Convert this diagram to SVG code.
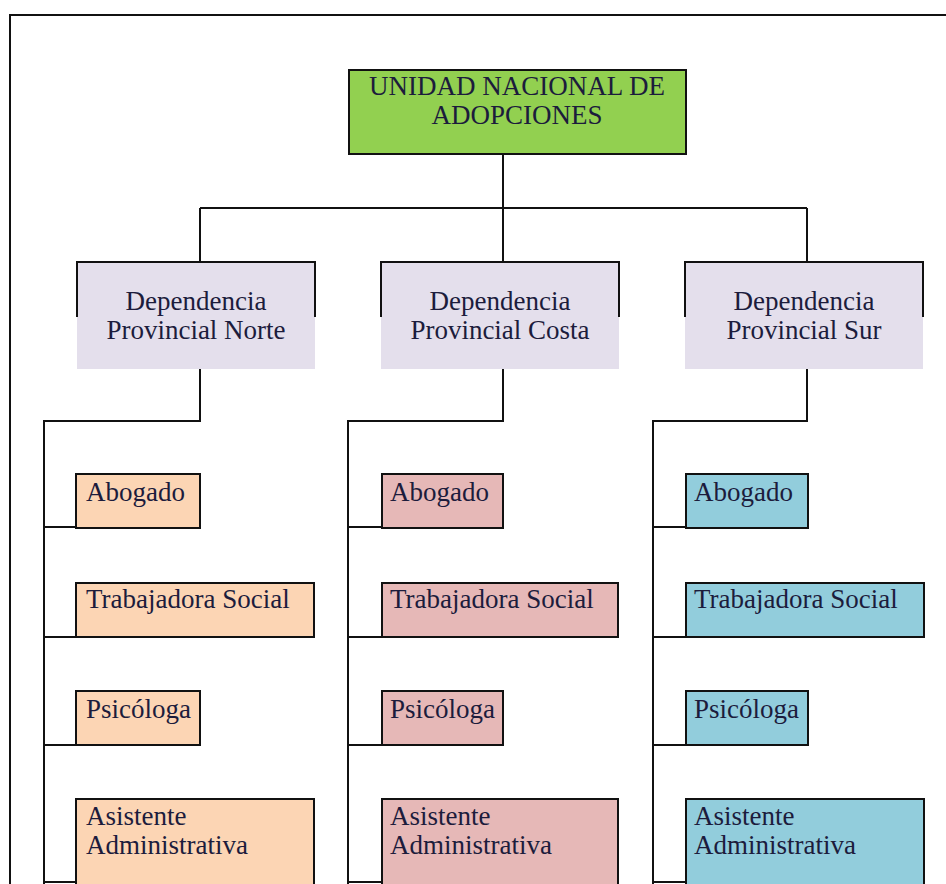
<svg xmlns="http://www.w3.org/2000/svg" width="946" height="884" viewBox="0 0 946 884">
<style>
text{font-family:'Liberation Serif','Times New Roman',Times,serif;font-size:27px;fill:#1c1c3c}
.c{text-anchor:middle}
.ln{stroke:#111;stroke-width:2;fill:none}
.bx{stroke:#111;stroke-width:2}
.prov{fill:#e4dfec}
.n{fill:#fcd5b4}
.m{fill:#e6b8b7}
.s{fill:#92cddc}
</style>
<rect width="946" height="884" fill="#fff"/>
<path class="ln" d="M10,884 V15 H946"/>
<g id="connectors" class="ln">
<path d="M503,154 V208 M200,208 H807 M200,208 V262 M503,208 V262 M807,208 V262"/>
<path d="M200,369 V421 H44 V884 M44,527 H76 M44,637 H76 M44,745 H76 M44,882 H76"/>
<path d="M503,369 V421 H348 V884 M348,527 H382 M348,637 H382 M348,745 H382 M348,882 H382"/>
<path d="M807,369 V421 H653 V884 M653,527 H686 M653,637 H686 M653,745 H686 M653,882 H686"/>
</g>
<g id="unidad">
<rect class="bx" x="349" y="70" width="337" height="84" fill="#92d050"/>
<text class="c" x="517" y="95">UNIDAD NACIONAL DE</text>
<text class="c" x="517" y="124">ADOPCIONES</text>
</g>
<g id="prov-norte">
<rect class="prov" x="77" y="262" width="238" height="107"/>
<path class="ln" d="M77,317 V262 H315 V317"/>
<text class="c" x="196" y="310">Dependencia</text>
<text class="c" x="196" y="339">Provincial Norte</text>
</g>
<g id="prov-costa">
<rect class="prov" x="381" y="262" width="238" height="107"/>
<path class="ln" d="M381,317 V262 H619 V317"/>
<text class="c" x="500" y="310">Dependencia</text>
<text class="c" x="500" y="339">Provincial Costa</text>
</g>
<g id="prov-sur">
<rect class="prov" x="685" y="262" width="238" height="107"/>
<path class="ln" d="M685,317 V262 H923 V317"/>
<text class="c" x="804" y="310">Dependencia</text>
<text class="c" x="804" y="339">Provincial Sur</text>
</g>
<g id="norte-abogado"><rect class="bx n" x="76" y="474" width="124" height="54"/><text x="86" y="501">Abogado</text></g>
<g id="norte-trabajadora"><rect class="bx n" x="76" y="583" width="238" height="54"/><text x="86" y="608">Trabajadora Social</text></g>
<g id="norte-psicologa"><rect class="bx n" x="76" y="691" width="124" height="54"/><text x="86" y="718">Psicóloga</text></g>
<g id="norte-asistente"><rect class="bx n" x="76" y="799" width="238" height="100"/><text x="86" y="825">Asistente</text><text x="86" y="854">Administrativa</text></g>
<g id="costa-abogado"><rect class="bx m" x="382" y="474" width="121" height="54"/><text x="390" y="501">Abogado</text></g>
<g id="costa-trabajadora"><rect class="bx m" x="382" y="583" width="236" height="54"/><text x="390" y="608">Trabajadora Social</text></g>
<g id="costa-psicologa"><rect class="bx m" x="382" y="691" width="121" height="54"/><text x="390" y="718">Psicóloga</text></g>
<g id="costa-asistente"><rect class="bx m" x="382" y="799" width="236" height="100"/><text x="390" y="825">Asistente</text><text x="390" y="854">Administrativa</text></g>
<g id="sur-abogado"><rect class="bx s" x="686" y="474" width="122" height="54"/><text x="694" y="501">Abogado</text></g>
<g id="sur-trabajadora"><rect class="bx s" x="686" y="583" width="238" height="54"/><text x="694" y="608">Trabajadora Social</text></g>
<g id="sur-psicologa"><rect class="bx s" x="686" y="691" width="122" height="54"/><text x="694" y="718">Psicóloga</text></g>
<g id="sur-asistente"><rect class="bx s" x="686" y="799" width="238" height="100"/><text x="694" y="825">Asistente</text><text x="694" y="854">Administrativa</text></g>
</svg>
